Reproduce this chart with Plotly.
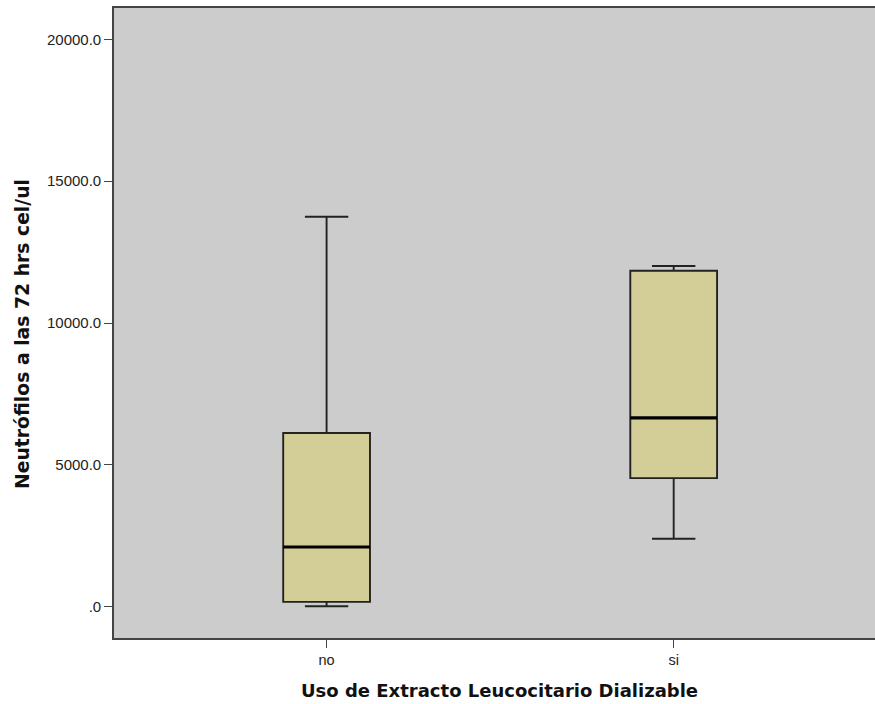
import plotly.graph_objects as go

categories = ["no", "si"]
lower_whisker = [10, 2390]
q1 = [165, 4530]
median = [2100, 6655]
q3 = [6120, 11845]
upper_whisker = [13750, 12010]

y_tick_vals = [0, 5000, 10000, 15000, 20000]
y_tick_text = [".0", "5000.0", "10000.0", "15000.0", "20000.0"]

x_title = "Uso de Extracto Leucocitario Dializable"
y_title = "Neutrófilos a las 72 hrs cel/ul"

BOX_W = 0.25
xpos = list(range(len(categories)))

fig = go.Figure()
fig.add_trace(go.Box(
    x=xpos, q1=q1, median=median, q3=q3,
    lowerfence=lower_whisker, upperfence=upper_whisker,
    width=BOX_W, whiskerwidth=0.5,
    fillcolor="#D3CE97",
    line=dict(color="#222222", width=1.9),
    boxpoints=False, hoverinfo="skip", showlegend=False,
))
for i, m in zip(xpos, median):
    fig.add_trace(go.Scatter(
        x=[i - BOX_W / 2, i + BOX_W / 2], y=[m, m], mode="lines",
        line=dict(color="black", width=3.2), showlegend=False, hoverinfo="skip",
    ))

TITLE_FONT = "DejaVu Sans, Liberation Sans, Arial, sans-serif"

fig.update_layout(
    width=875, height=704,
    margin=dict(l=114, r=0, t=8, b=66),
    paper_bgcolor="white", plot_bgcolor="#CCCCCC",
    font=dict(family="Liberation Sans, Arial, sans-serif", size=15, color="#222"),
    xaxis=dict(
        range=[-0.6125, 1.58], tickvals=xpos, ticktext=categories,
        showgrid=False, zeroline=False,
        showline=True, linecolor="#444", linewidth=1.6, mirror=True,
        ticks="outside", ticklen=8, tickwidth=1.3, tickcolor="#444",
        tickfont=dict(size=14.5, color="#222"),
    ),
    yaxis=dict(
        range=[-1110, 21110], tickvals=y_tick_vals, ticktext=y_tick_text,
        showgrid=False, zeroline=False,
        showline=True, linecolor="#444", linewidth=1.6,
        ticks="outside", ticklen=8, tickwidth=1.3, tickcolor="#444",
        tickfont=dict(size=15, color="#222"),
    ),
    annotations=[
        dict(text="<b>" + x_title + "</b>", xref="paper", yref="paper",
             x=0.507, y=-0.083, xanchor="center", yanchor="middle",
             showarrow=False, font=dict(family=TITLE_FONT, size=18, color="#111")),
        dict(text="<b>" + y_title + "</b>", xref="paper", yref="paper",
             x=-0.12, y=0.482, xanchor="center", yanchor="middle", textangle=-90,
             showarrow=False, font=dict(family=TITLE_FONT, size=18.8, color="#111")),
    ],
)

fig.write_html("out.html")
